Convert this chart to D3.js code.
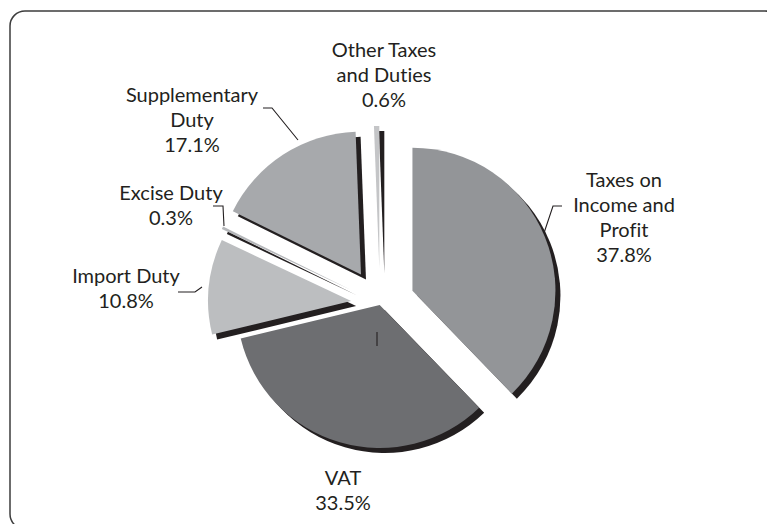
<!DOCTYPE html>
<html>
<head>
<meta charset="utf-8">
<script src="https://cdn.jsdelivr.net/npm/d3@7"></script>
<style>
  html, body { margin: 0; padding: 0; background: #ffffff; }
  svg { display: block; }
  text { font-family: Lato, "Open Sans", sans-serif; fill: #231f20; font-variant-ligatures: none; font-feature-settings: "liga" 0; }
</style>
</head>
<body>
<svg id="chart" width="767" height="524"></svg>
<script>
// Tax revenue composition (percent of total)
const categories = [
  "Taxes on Income and Profit",
  "VAT",
  "Import Duty",
  "Excise Duty",
  "Supplementary Duty",
  "Other Taxes and Duties"
];
const shares = [37.8, 33.5, 10.8, 0.3, 17.1, 0.6];

// How each category name is broken over lines in its label
const labelLines = [
  ["Taxes on", "Income and", "Profit"],
  ["VAT"],
  ["Import Duty"],
  ["Excise Duty"],
  ["Supplementary", "Duty"],
  ["Other Taxes", "and Duties"]
];

// ---- styling / layout ----
const sliceColors = ["#939598", "#6d6e71", "#bcbec0", "#b5b7ba", "#a7a9ac", "#c4c5c7"];
const explodeBy = [35, 1, 29, 32, 35, 35];   // radial pull-out of each slice
const labelAnchor = [                       // [center x, first baseline]
  [624, 187], [343, 485], [126, 283], [171, 200], [192, 102], [384, 57]
];
const leaderPaths = [
  [[544, 233], [553, 206], [562, 206]],
  [[377, 332], [377, 346]],
  [[178, 292], [195, 292], [202, 287]],
  [[213, 206], [223, 206], [224, 226]],
  [[263, 108], [272, 108], [298, 140]],
  []
];
const cx = 380, cy = 304, radius = 143;
const shadowDx = 5, shadowDy = 5;
const lineHeight = 25;

const svg = d3.select("#chart");

// rounded frame
svg.append("rect")
  .attr("x", 10).attr("y", 11)
  .attr("width", 770).attr("height", 518)
  .attr("rx", 15).attr("ry", 15)
  .attr("fill", "none")
  .attr("stroke", "#3d3d3d")
  .attr("stroke-width", 1.5);

const pie = d3.pie().sort(null).value(d => d.value);
const arcs = pie(categories.map((c, i) => ({ name: c, value: shares[i], idx: i })));
const arcGen = d3.arc().innerRadius(0).outerRadius(radius);

function offset(a) {
  const mid = (a.startAngle + a.endAngle) / 2;
  const d = explodeBy[a.data.idx];
  return [cx + d * Math.sin(mid), cy - d * Math.cos(mid)];
}

const g = svg.append("g");

// drop shadows under every slice
g.selectAll("path.shadow")
  .data(arcs)
  .join("path")
  .attr("class", "shadow")
  .attr("d", arcGen)
  .attr("transform", a => {
    const [x, y] = offset(a);
    return `translate(${x + shadowDx},${y + shadowDy})`;
  })
  .attr("fill", "#231f20");

// slices
g.selectAll("path.slice")
  .data(arcs)
  .join("path")
  .attr("class", "slice")
  .attr("d", arcGen)
  .attr("transform", a => {
    const [x, y] = offset(a);
    return `translate(${x},${y})`;
  })
  .attr("fill", a => sliceColors[a.data.idx]);

// leader lines
const line = d3.line();
svg.selectAll("path.leader")
  .data(leaderPaths.filter(p => p.length))
  .join("path")
  .attr("class", "leader")
  .attr("d", line)
  .attr("fill", "none")
  .attr("stroke", "#231f20")
  .attr("stroke-width", 1.1);

// labels: name lines followed by the share
const fmt = d3.format(".1f");
arcs.forEach(a => {
  const i = a.data.idx;
  const lines = labelLines[i].concat([fmt(shares[i]) + "%"]);
  const [x, y0] = labelAnchor[i];
  const t = svg.append("text")
    .attr("text-anchor", "middle")
    .attr("font-size", 20);
  lines.forEach((s, k) => {
    t.append("tspan").attr("x", x).attr("y", y0 + k * lineHeight).text(s);
  });
});
</script>
</body>
</html>
